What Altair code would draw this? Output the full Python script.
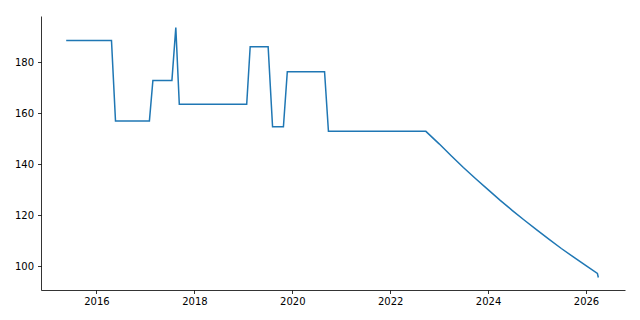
import altair as alt
import pandas as pd

dates = [
    "2015-05-20", "2016-04-22", "2016-05-22", "2017-01-30", "2017-02-25",
    "2017-07-17", "2017-08-15", "2017-09-10", "2019-01-26", "2019-02-21",
    "2019-07-05", "2019-08-07", "2019-10-27", "2019-11-25", "2020-08-29",
    "2020-09-27", "2022-09-24", "2023-01-01", "2023-04-01", "2023-07-01",
    "2023-10-01", "2024-01-01", "2024-04-01", "2024-07-01", "2024-10-01",
    "2025-01-01", "2025-04-01", "2025-07-01", "2025-10-01", "2026-01-01",
    "2026-03-27", "2026-04-03",
]
values = [
    188.6, 188.6, 157.0, 157.0, 172.9,
    172.9, 193.7, 163.5, 163.5, 186.1,
    186.1, 154.7, 154.7, 176.3, 176.3,
    152.9, 152.9, 148.0, 143.3, 138.7,
    134.3, 130.0, 125.8, 121.8, 117.9,
    114.1, 110.5, 106.9, 103.5, 100.2,
    97.1, 95.5,
]
x_ticks = ["2016-01-01", "2018-01-01", "2020-01-01", "2022-01-01", "2024-01-01", "2026-01-01"]
y_ticks = [100, 120, 140, 160, 180]

df = pd.DataFrame({"date": pd.to_datetime(dates), "value": values})

x_tick_dt = [alt.DateTime(year=int(d[:4]), month=1, date=1) for d in x_ticks]

chart = alt.Chart(df).mark_line(color="#1f77b4", strokeWidth=1.5).encode(
    x=alt.X(
        "date:T",
        scale=alt.Scale(domain=[alt.DateTime(year=2014, month=11, date=13),
                                alt.DateTime(year=2026, month=10, date=19)]),
        axis=alt.Axis(values=x_tick_dt, format="%Y", title=None, grid=False,
                      tickSize=3.5, tickWidth=0.8, tickColor="black",
                      domainColor="black", domainWidth=0.8,
                      labelFont="DejaVu Sans", labelFontSize=10, labelColor="black",
                      labelPadding=3, labelFlush=False),
    ),
    y=alt.Y(
        "value:Q",
        scale=alt.Scale(domain=[90.6, 198.2], nice=False, zero=False),
        axis=alt.Axis(values=y_ticks, title=None, grid=False,
                      tickSize=3.5, tickWidth=0.8, tickColor="black",
                      domainColor="black", domainWidth=0.8,
                      labelFont="DejaVu Sans", labelFontSize=10, labelColor="black",
                      labelPadding=4, labelFlush=False),
    ),
).properties(
    width=584, height=274,
    autosize=alt.AutoSizeParams(type="none"),
    padding={"left": 41, "top": 16, "right": 15, "bottom": 30},
    background="white",
).configure_view(strokeWidth=0, stroke="transparent")

chart.save("out.html", embed_options={"renderer": "svg", "actions": False})
